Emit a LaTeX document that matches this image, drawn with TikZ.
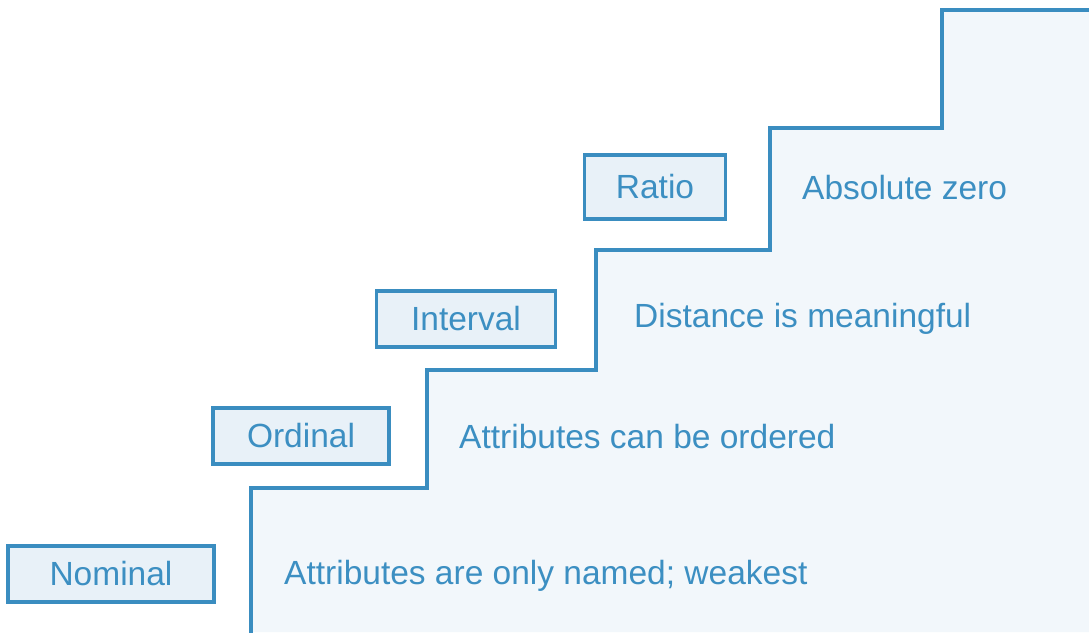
\documentclass[tikz,border=0pt]{standalone}
\usepackage{fontspec}
\setmainfont{Liberation Sans}
\usetikzlibrary{positioning}
\definecolor{stairline}{HTML}{3A8DC0}
\definecolor{stairfill}{HTML}{F2F7FB}
\definecolor{boxfill}{HTML}{E8F1F8}
\definecolor{labeltext}{HTML}{3C8FC2}
\tikzset{
  levelbox/.style={draw=stairline,fill=boxfill,line width=3.5pt,
    text=labeltext,font=\fontsize{33.5}{36}\selectfont,
    minimum height=56pt,inner sep=0pt},
  levelnote/.style={anchor=west,text=labeltext,
    font=\fontsize{33.5}{36}\selectfont,inner sep=0pt}
}
\begin{document}
\begin{tikzpicture}[x=1pt,y=-1pt]
\useasboundingbox (0,0) rectangle (1089,632);
% staircase
\fill[stairfill] (251,632) -- (251,488) -- (427,488) -- (427,370) -- (596,370)
  -- (596,250) -- (770,250) -- (770,128) -- (942,128) -- (942,10) -- (1089,10)
  -- (1089,632) -- cycle;
\draw[stairline,line width=3.5pt] (251,634) -- (251,488) -- (427,488) -- (427,370)
  -- (596,370) -- (596,250) -- (770,250) -- (770,128) -- (942,128) -- (942,10)
  -- (1091,10);
% levels
\node[levelbox,minimum width=206pt] (nominal) at (111,574) {Nominal};
\node[levelbox,minimum width=176pt] (ordinal) at (301,436) {Ordinal};
\node[levelbox,minimum width=179pt] (interval) at (466,319) {Interval};
\node[levelbox,minimum width=141pt,minimum height=64pt] (ratio) at (655,187) {Ratio};
% notes
\node[levelnote] (nominalnote) at (284,576) {Attributes are only named; weakest};
\node[levelnote] (ordinalnote) at (459,437) {Attributes can be ordered};
\node[levelnote] (intervalnote) at (634,319) {Distance is meaningful};
\node[levelnote] (rationote) at (802,188) {Absolute zero};
\end{tikzpicture}
\end{document}
